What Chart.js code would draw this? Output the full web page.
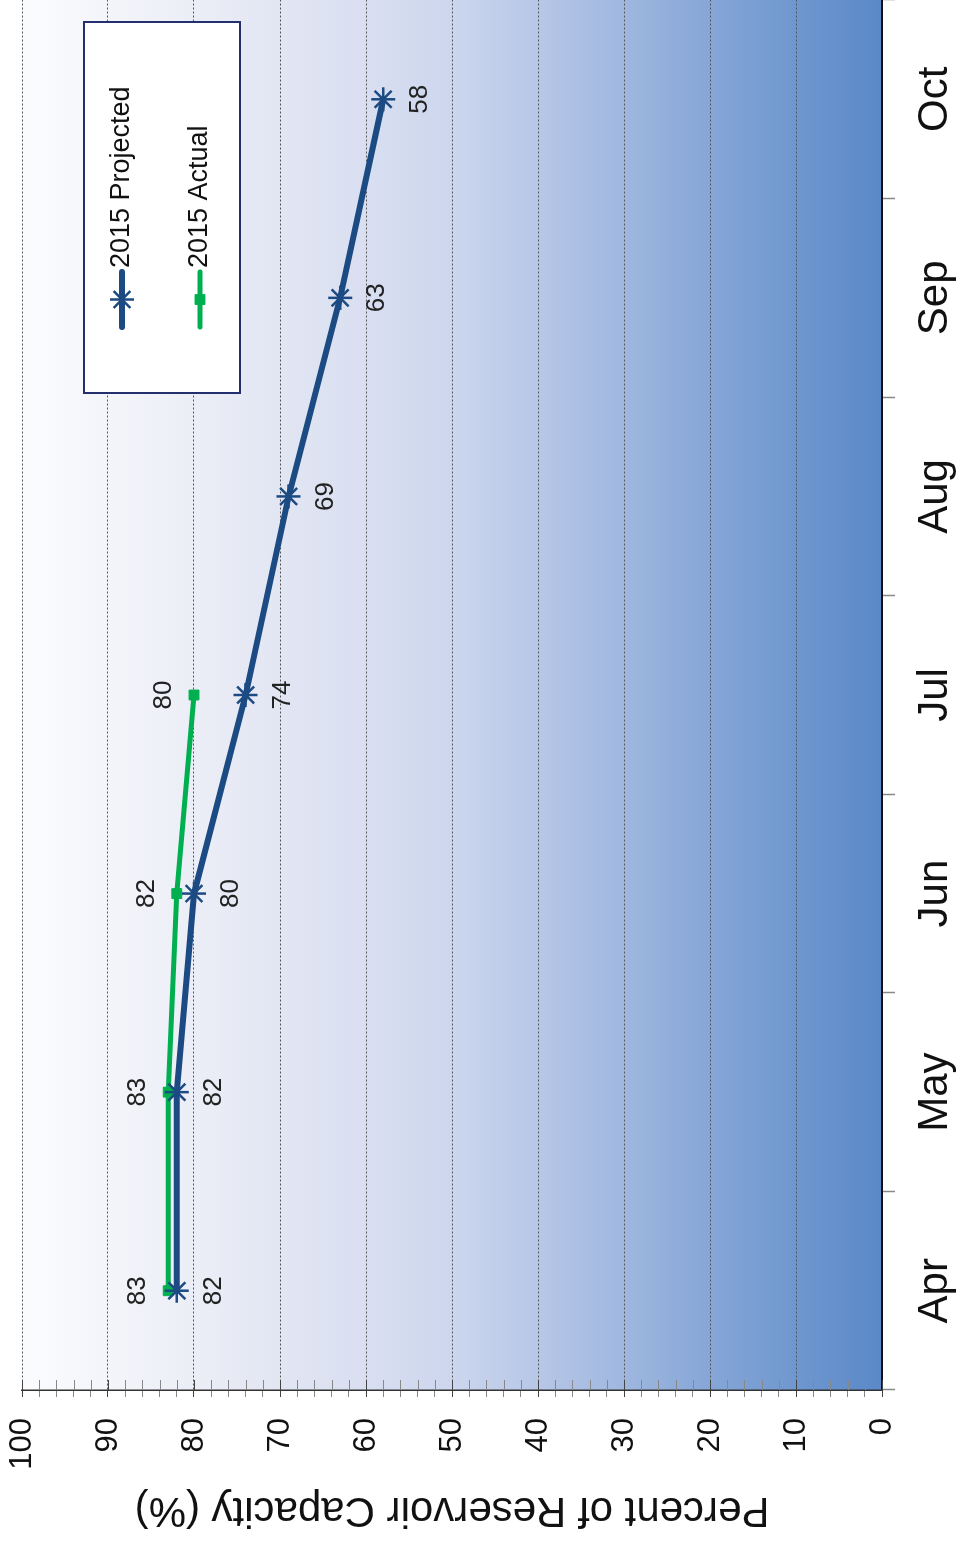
<!DOCTYPE html>
<html>
<head>
<meta charset="utf-8">
<title>Reservoir Capacity 2015</title>
<script src="https://cdn.jsdelivr.net/npm/chart.js@4/dist/chart.umd.min.js"></script>
<style>
  html, body { margin: 0; padding: 0; background: #ffffff; overflow: hidden; }
  body { width: 962px; height: 1541px; position: relative; }
  /* chart is laid out landscape, then turned a quarter turn counter-clockwise */
  #wrap {
    position: absolute; left: 0; top: 0;
    width: 1541px; height: 962px;
    transform-origin: 0 0;
    transform: translate(0, 1541px) rotate(-90deg);
  }
  canvas { display: block; }
</style>
</head>
<body>
<div id="wrap"><canvas id="chart" width="1541" height="962"></canvas></div>
<script>
// Monthly reservoir storage, percent of capacity
const months = ['Apr', 'May', 'Jun', 'Jul', 'Aug', 'Sep', 'Oct'];
const projected2015 = [82, 82, 80, 74, 69, 63, 58];
const actual2015 = [83, 83, 82, 80];
const seriesNames = ['2015 Projected', '2015 Actual'];
const axisTitle = 'Percent of Reservoir Capacity (%)';

const FONT = '"Liberation Sans", Arial, Helvetica, sans-serif';
const BLUE = '#1c4a82';
const GREEN = '#00b050';

// blue gradient behind the plot, pale at the top and deep at the bottom
const plotBackground = {
  id: 'plotBackground',
  beforeDraw(chart) {
    const { ctx, chartArea: a } = chart;
    const g = ctx.createLinearGradient(0, a.top, 0, a.bottom);
    g.addColorStop(0.00, '#fbfcfe');
    g.addColorStop(0.10, '#f4f5fa');
    g.addColorStop(0.20, '#eceef7');
    g.addColorStop(0.30, '#e2e6f3');
    g.addColorStop(0.40, '#d9dff1');
    g.addColorStop(0.50, '#ccd6ee');
    g.addColorStop(0.60, '#b7c7e7');
    g.addColorStop(0.70, '#9fb7df');
    g.addColorStop(0.80, '#86a6d7');
    g.addColorStop(0.90, '#6f97cf');
    g.addColorStop(1.00, '#5a89c8');
    ctx.save();
    ctx.fillStyle = g;
    ctx.fillRect(a.left, a.top, a.right - a.left, a.bottom - a.top);
    ctx.restore();
  }
};

// short tick marks on the inner side of the value axis
const innerTicks = {
  id: 'innerTicks',
  afterDraw(chart) {
    const { ctx } = chart;
    const y = chart.scales.y;
    const x0 = chart.chartArea.left;
    ctx.save();
    ctx.lineWidth = 1;
    y.ticks.forEach(t => {
      const py = Math.round(y.getPixelForValue(t.value)) + 0.5;
      ctx.strokeStyle = t.value % 10 === 0 ? '#444' : '#888';
      ctx.beginPath();
      ctx.moveTo(x0, py);
      ctx.lineTo(x0 + 10, py);
      ctx.stroke();
    });
    ctx.restore();
  }
};

// value labels: projected below its points, actual above
const valueLabels = {
  id: 'valueLabels',
  afterDatasetsDraw(chart) {
    const { ctx } = chart;
    ctx.save();
    ctx.font = '26px ' + FONT;
    ctx.fillStyle = '#222';
    ctx.textAlign = 'center';
    ctx.textBaseline = 'middle';
    chart.data.datasets.forEach((ds, i) => {
      const meta = chart.getDatasetMeta(i);
      const off = i === 0 ? 37 : -30;
      meta.data.forEach((pt, j) => {
        const v = ds.data[j];
        if (v == null) return;
        ctx.fillText(String(v), pt.x, pt.y + off);
      });
    });
    ctx.restore();
  }
};

// boxed legend inside the upper right of the plot
const boxLegend = {
  id: 'boxLegend',
  afterDraw(chart) {
    const { ctx, chartArea: a } = chart;
    const w = 371, h = 156;
    const left = a.right - 22 - w;
    const top = a.top + 62;
    ctx.save();
    ctx.fillStyle = '#ffffff';
    ctx.fillRect(left, top, w, h);
    ctx.lineWidth = 2;
    ctx.strokeStyle = '#24306e';
    ctx.strokeRect(left, top, w, h);
    chart.data.datasets.forEach((ds, i) => {
      const cy = top + (i === 0 ? 38 : 116);
      const lx0 = left + 66, lx1 = left + 121;
      ctx.strokeStyle = ds.borderColor;
      ctx.lineWidth = ds.borderWidth;
      ctx.lineCap = 'round';
      ctx.beginPath();
      ctx.moveTo(lx0, cy);
      ctx.lineTo(lx1, cy);
      ctx.stroke();
      ctx.lineCap = 'butt';
      ctx.lineWidth = ds.pointBorderWidth;
      ctx.strokeStyle = ds.pointBorderColor;
      ctx.fillStyle = ds.backgroundColor;
      Chart.helpers.drawPoint(ctx, {
        pointStyle: ds.pointStyle,
        radius: ds.pointRadius,
        borderWidth: ds.pointBorderWidth
      }, (lx0 + lx1) / 2, cy);
      ctx.fillStyle = '#111';
      ctx.font = '27px ' + FONT;
      ctx.textAlign = 'left';
      ctx.textBaseline = 'middle';
      ctx.fillText(ds.label, left + 125, cy);
    });
    ctx.restore();
  }
};

new Chart(document.getElementById('chart'), {
  type: 'line',
  data: {
    labels: months,
    datasets: [
      {
        label: seriesNames[0],
        data: projected2015,
        borderColor: BLUE,
        backgroundColor: BLUE,
        borderWidth: 6,
        pointStyle: 'star',
        pointRadius: 12,
        pointBorderWidth: 2.5,
        pointBorderColor: BLUE,
        tension: 0
      },
      {
        label: seriesNames[1],
        data: actual2015,
        borderColor: GREEN,
        backgroundColor: GREEN,
        borderWidth: 5,
        pointStyle: 'rect',
        pointRadius: 7,
        pointBorderWidth: 1,
        pointBorderColor: GREEN,
        tension: 0
      }
    ]
  },
  options: {
    responsive: false,
    animation: false,
    devicePixelRatio: 1,
    layout: { autoPadding: false, padding: { top: 22, right: 0, left: 0, bottom: 0 } },
    plugins: {
      legend: { display: false },
      tooltip: { enabled: false }
    },
    scales: {
      x: {
        offset: true,
        afterFit(s) {
          s.height = 80;
          s.paddingLeft = 0;
          s.paddingRight = 0;
        },
        grid: {
          offset: true,
          drawOnChartArea: false,
          drawTicks: true,
          tickLength: 13,
          tickColor: '#888',
          tickWidth: 1.5
        },
        border: { display: true, color: '#111', width: 2 },
        ticks: {
          color: '#111',
          font: { family: FONT, size: 42 },
          padding: 15,
          maxRotation: 0
        }
      },
      y: {
        min: 0,
        max: 100,
        afterFit(s) {
          s.width = 151;
          s.paddingTop = 0;
          s.paddingBottom = 0;
        },
        ticks: {
          stepSize: 2,
          autoSkip: false,
          color: '#111',
          font: { family: FONT, size: 31 },
          padding: 21,
          callback: v => (v % 10 === 0 ? String(v) : '')
        },
        grid: {
          drawTicks: true,
          tickLength: 7,
          lineWidth: 1,
          color: c => (c.tick && c.tick.value % 10 === 0 && c.tick.value !== 0 ? '#555' : 'rgba(0,0,0,0)'),
          tickColor: c => (c.tick && c.tick.value % 10 === 0 ? '#444' : '#888')
        },
        border: { display: true, color: '#333', width: 1.5, dash: [2, 2] },
        title: {
          display: true,
          text: axisTitle,
          color: '#111',
          font: { family: FONT, size: 42 },
          padding: { top: 6, bottom: 0 }
        }
      }
    }
  },
  plugins: [plotBackground, innerTicks, valueLabels, boxLegend]
});
</script>
</body>
</html>
